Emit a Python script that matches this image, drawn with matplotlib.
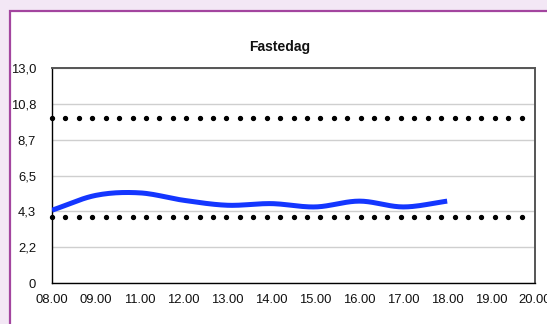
import numpy as np
import matplotlib
matplotlib.use("Agg")
import matplotlib.pyplot as plt
from matplotlib.patches import Rectangle

plt.rcParams['font.family'] = ['Liberation Sans', 'DejaVu Sans']

# ---- data ----
title = "Fastedag"
x_labels = ["08.00", "09.00", "11.00", "12.00", "13.00", "14.00",
            "15.00", "16.00", "17.00", "18.00", "19.00", "20.00"]
glucose = [4.4, 5.3, 5.45, 5.0, 4.7, 4.8, 4.6, 4.95, 4.6, 4.95]
y_ticks = [0, 2.1667, 4.3333, 6.5, 8.6667, 10.8333, 13.0]
y_tick_labels = ["0", "2,2", "4,3", "6,5", "8,7", "10,8", "13,0"]
n_dot_steps = 36          # reference dotted lines, one dot per 20 minutes
lower_limit = 4.0
upper_limit = 10.0


def smooth(xs, ys, n=20):
    """Catmull-Rom smoothing for drawing a smoothed line through the points."""
    xs = np.asarray(xs, float)
    ys = np.asarray(ys, float)
    P = np.column_stack([xs, ys])
    P = np.vstack([P[0] - (P[1] - P[0]), P, P[-1] + (P[-1] - P[-2])])
    out = []
    for i in range(1, len(P) - 2):
        p0, p1, p2, p3 = P[i - 1], P[i], P[i + 1], P[i + 2]
        t = np.linspace(0, 1, n, endpoint=(i == len(P) - 3))[:, None]
        pts = 0.5 * ((2 * p1) + (-p0 + p2) * t + (2 * p0 - 5 * p1 + 4 * p2 - p3) * t ** 2
                     + (-p0 + 3 * p1 - 3 * p2 + p3) * t ** 3)
        out.append(pts)
    out = np.vstack(out)
    return out[:, 0], out[:, 1]


W, H, DPI = 547, 324, 100
fig = plt.figure(figsize=(W / DPI, H / DPI), dpi=DPI)
fig.patch.set_facecolor('#f3e7f5')

# white panel with purple border (cut off at right and bottom)
panel = Rectangle((9.5 / W, -0.1), 1.2, (H - 11.5) / H + 0.1, transform=fig.transFigure,
                  facecolor='white', edgecolor='#a3459f', linewidth=1.6, zorder=-5)
fig.patches.append(panel)

left, right, top, bottom = 52, 535, 68, 283
ax = fig.add_axes([left / W, 1 - bottom / H, (right - left) / W, (bottom - top) / H])
ax.set_facecolor('white')

ax.set_xlim(0, len(x_labels) - 1)
ax.set_ylim(0, 13)
ax.set_xticks(range(len(x_labels)))
ax.set_xticklabels(x_labels, fontsize=9.4, color='#111111')
ax.set_yticks(y_ticks)
ax.set_yticklabels(y_tick_labels, fontsize=9.4, color='#111111')
ax.tick_params(axis='both', length=0)
ax.tick_params(axis='x', pad=8)
ax.tick_params(axis='y', pad=11.5)
ax.grid(axis='y', color='#cfcfcf', linewidth=1.0)
ax.set_axisbelow(True)

for s in ['left', 'bottom']:
    ax.spines[s].set_color('black')
    ax.spines[s].set_linewidth(1.0)
for s in ['top', 'right']:
    ax.spines[s].set_color('#555555')
    ax.spines[s].set_linewidth(1.4)

sx, sy = smooth(range(len(glucose)), glucose)
ax.plot(sx, sy, color='#1436ff', linewidth=3.6, solid_capstyle='butt', zorder=3)

ax2 = ax.twiny()
ax2.set_xlim(0, n_dot_steps)
ax2.set_axis_off()
dot_x = np.arange(n_dot_steps)
ax2.plot(dot_x, [lower_limit] * n_dot_steps, linestyle='none', marker='o',
         markersize=2.8, color='black', zorder=4, clip_on=False)
ax2.plot(dot_x, [upper_limit] * n_dot_steps, linestyle='none', marker='o',
         markersize=2.8, color='black', zorder=4, clip_on=False)
ax2.set_ylim(0, 13)

fig.text(280 / W, 1 - 47 / H, title, ha='center', va='center',
         fontsize=10, fontweight='bold', color='#111111')

fig.savefig('out.png', dpi=DPI, facecolor=fig.get_facecolor())
